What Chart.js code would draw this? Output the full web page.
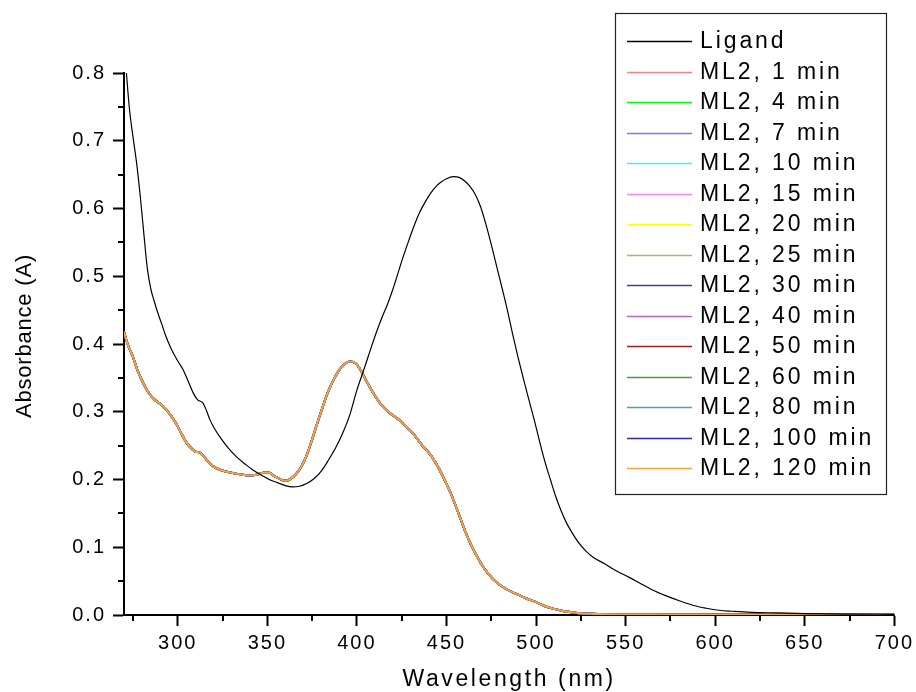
<!DOCTYPE html>
<html>
<head>
<meta charset="utf-8">
<title>Absorbance vs Wavelength</title>
<script src="https://cdn.jsdelivr.net/npm/chart.js@4.4.1/dist/chart.umd.min.js"></script>
<style>
  html, body { margin: 0; padding: 0; background: #fff; }
  #wrap { width: 916px; height: 692px; position: relative; }
</style>
</head>
<body>
<div id="wrap"><canvas id="grafico"></canvas></div>
<script>
// Ligand spectrum
const ligandWavelength = [270, 271, 273, 275, 277, 279, 281, 283, 285, 287, 289, 291, 293, 296, 300, 303, 306, 309, 311, 314, 316, 318, 321, 324, 328, 333, 338, 342, 347, 352, 356, 360, 364, 368, 372, 376, 380, 384, 388, 392, 396, 400, 404, 408, 411, 414, 417, 420, 423, 426, 429, 432, 435, 438, 441, 444, 447, 450, 454, 457, 460, 463, 466, 469, 472, 475, 478, 481, 484, 487, 490, 493, 496, 499, 502, 505, 508, 511, 514, 517, 520, 524, 528, 532, 538, 545, 552, 558, 565, 572, 580, 588, 595, 602, 610, 620, 635, 650, 675, 700];
const ligandAbsorbance = [0.845, 0.812, 0.748, 0.706, 0.668, 0.62, 0.565, 0.512, 0.481, 0.462, 0.445, 0.43, 0.414, 0.395, 0.375, 0.362, 0.344, 0.326, 0.318, 0.313, 0.302, 0.288, 0.273, 0.261, 0.247, 0.233, 0.222, 0.214, 0.206, 0.199, 0.195, 0.191, 0.189, 0.190, 0.194, 0.201, 0.212, 0.228, 0.246, 0.268, 0.295, 0.332, 0.363, 0.395, 0.418, 0.439, 0.458, 0.48, 0.505, 0.53, 0.553, 0.575, 0.594, 0.609, 0.622, 0.632, 0.639, 0.644, 0.647, 0.646, 0.641, 0.633, 0.621, 0.603, 0.577, 0.547, 0.515, 0.483, 0.45, 0.414, 0.38, 0.348, 0.318, 0.288, 0.256, 0.226, 0.2, 0.175, 0.154, 0.136, 0.122, 0.106, 0.094, 0.085, 0.076, 0.065, 0.0555, 0.047, 0.037, 0.029, 0.021, 0.014, 0.01, 0.007, 0.0055, 0.004, 0.003, 0.002, 0.0013, 0.001];

// ML2 spectra (all time points overlap within a line width)
const ml2Wavelength = [270, 272, 275, 278, 281, 284, 287, 290, 293, 296, 299, 302, 305, 308, 310, 312, 314, 317, 320, 324, 328, 332, 336, 340, 344, 348, 351, 354, 357, 360, 363, 366, 369, 372, 375, 378, 381, 384, 387, 390, 393, 396, 399, 402, 405, 408, 411, 414, 417, 420, 424, 428, 432, 436, 440, 443, 446, 449, 452, 455, 458, 461, 464, 467, 470, 473, 476, 480, 485, 490, 495, 500, 505, 510, 515, 520, 525, 535, 550, 575, 600, 650, 700];
const ml2Absorbance = [0.418, 0.40, 0.381, 0.358, 0.341, 0.327, 0.318, 0.312, 0.305, 0.295, 0.283, 0.268, 0.254, 0.245, 0.241, 0.240, 0.236, 0.226, 0.219, 0.214, 0.211, 0.209, 0.207, 0.206, 0.207, 0.210, 0.210, 0.205, 0.201, 0.198, 0.201, 0.208, 0.219, 0.236, 0.259, 0.284, 0.308, 0.33, 0.347, 0.361, 0.37, 0.374, 0.372, 0.362, 0.347, 0.333, 0.32, 0.309, 0.301, 0.295, 0.287, 0.277, 0.266, 0.252, 0.24, 0.229, 0.215, 0.199, 0.182, 0.162, 0.141, 0.12, 0.102, 0.087, 0.073, 0.062, 0.053, 0.044, 0.036, 0.03, 0.024, 0.019, 0.013, 0.009, 0.006, 0.004, 0.0025, 0.0013, 0.0008, 0.0005, 0.0003, 0.0002, 0.0002];

const ml2Times = ['1 min', '4 min', '7 min', '10 min', '15 min', '20 min', '25 min', '30 min', '40 min', '50 min', '60 min', '80 min', '100 min', '120 min'];
const ml2Colors = ['#ff8080', '#00ff00', '#7a7aff', '#40f0f0', '#ff80ff', '#ffff00', '#b0b070', '#404098', '#c060c0', '#a02020', '#40a040', '#40a8a8', '#2828c0', '#ffa040'];

// ticks
const xTickValues = [300, 350, 400, 450, 500, 550, 600, 650, 700];
const xMinorTicks = [275, 325, 375, 425, 475, 525, 575, 625, 675];
const yTickValues = [0.0, 0.1, 0.2, 0.3, 0.4, 0.5, 0.6, 0.7, 0.8];
const yTickLabels = ['0.0', '0.1', '0.2', '0.3', '0.4', '0.5', '0.6', '0.7', '0.8'];
const yMinorTicks = [0.05, 0.15, 0.25, 0.35, 0.45, 0.55, 0.65, 0.75];

const FONTE = "'Liberation Sans', Arial, sans-serif";

function pontos(xs, ys) {
  return xs.map((x, i) => ({ x: x, y: ys[i] }));
}

const datasets = [{
  label: 'Ligand',
  data: pontos(ligandWavelength, ligandAbsorbance),
  borderColor: '#000000',
  borderWidth: 1.2,
  order: 0
}];

ml2Times.forEach((t, i) => {
  datasets.push({
    label: 'ML2, ' + t,
    data: pontos(ml2Wavelength, ml2Absorbance),
    borderColor: ml2Colors[i],
    borderWidth: 2,
    order: 20 - i // 120 min drawn last
  });
});

// minor ticks, axis titles and the boxed legend
const decoracao = {
  id: 'decoracao',
  beforeDraw(chart) {
    chart.ctx.letterSpacing = '2px';
  },
  afterDraw(chart) {
    const { ctx, chartArea, scales } = chart;
    const x = scales.x, y = scales.y;
    ctx.save();

    // minor ticks
    ctx.strokeStyle = '#000';
    ctx.lineWidth = 2;
    ctx.beginPath();
    xMinorTicks.forEach(v => {
      const px = Math.round(x.getPixelForValue(v));
      ctx.moveTo(px, chartArea.bottom);
      ctx.lineTo(px, chartArea.bottom + 6);
    });
    yMinorTicks.forEach(v => {
      const py = Math.round(y.getPixelForValue(v));
      ctx.moveTo(chartArea.left, py);
      ctx.lineTo(chartArea.left - 6, py);
    });
    ctx.stroke();

    // axis titles
    ctx.fillStyle = '#000';
    ctx.textAlign = 'center';
    ctx.textBaseline = 'middle';
    ctx.font = '23px ' + FONTE;
    ctx.letterSpacing = '2.6px';
    ctx.fillText('Wavelength (nm)', (chartArea.left + chartArea.right) / 2, 680);

    ctx.save();
    ctx.translate(25, 336);
    ctx.rotate(-Math.PI / 2);
    ctx.font = '22px ' + FONTE;
    ctx.letterSpacing = '0.8px';
    ctx.fillText('Absorbance (A)', 0, 0);
    ctx.restore();

    // legend box
    const bx = 615.5, by = 13.5, bw = 271, bh = 481;
    ctx.fillStyle = '#fff';
    ctx.fillRect(bx, by, bw, bh);
    ctx.strokeStyle = '#222';
    ctx.lineWidth = 1.2;
    ctx.strokeRect(bx, by, bw, bh);

    ctx.font = '23px ' + FONTE;
    ctx.letterSpacing = '2.9px';
    ctx.textAlign = 'left';
    ctx.textBaseline = 'middle';
    chart.data.datasets.forEach((ds, i) => {
      const ly = 41 + i * 30.5;
      ctx.strokeStyle = ds.borderColor;
      ctx.lineWidth = 1.5;
      ctx.beginPath();
      ctx.moveTo(627, Math.round(ly) + 0.5);
      ctx.lineTo(692, Math.round(ly) + 0.5);
      ctx.stroke();
      ctx.fillStyle = '#000';
      ctx.fillText(ds.label, 700, ly + 1);
    });

    ctx.restore();
  }
};

const ctx = document.getElementById('grafico').getContext('2d');

new Chart(ctx, {
  type: 'line',
  data: { datasets: datasets },
  options: {
    responsive: true,
    maintainAspectRatio: false,
    animation: false,
    layout: { padding: { left: 0, top: 73, right: 19, bottom: 0 } },
    elements: {
      point: { radius: 0 },
      line: { cubicInterpolationMode: 'monotone', fill: false }
    },
    plugins: {
      legend: { display: false },
      tooltip: { enabled: false }
    },
    scales: {
      x: {
        type: 'linear',
        min: 270,
        max: 700,
        afterBuildTicks: (axis) => { axis.ticks = xTickValues.map(v => ({ value: v })); },
        afterFit: (axis) => { axis.height = 77; },
        ticks: {
          color: '#000',
          padding: 5,
          maxRotation: 0,
          font: { family: FONTE, size: 20 },
          callback: (v) => String(v)
        },
        grid: {
          drawOnChartArea: false,
          drawTicks: true,
          tickLength: 11,
          tickWidth: 2,
          tickColor: '#000'
        },
        border: { color: '#000', width: 2 }
      },
      y: {
        type: 'linear',
        min: 0,
        max: 0.8,
        afterBuildTicks: (axis) => { axis.ticks = yTickValues.map(v => ({ value: v })); },
        afterFit: (axis) => { axis.width = 124; },
        ticks: {
          color: '#000',
          padding: 7,
          font: { family: FONTE, size: 20 },
          callback: (v, i) => yTickLabels[i]
        },
        grid: {
          drawOnChartArea: false,
          drawTicks: true,
          tickLength: 11,
          tickWidth: 2,
          tickColor: '#000'
        },
        border: { color: '#000', width: 2 }
      }
    }
  },
  plugins: [decoracao]
});
</script>
</body>
</html>
